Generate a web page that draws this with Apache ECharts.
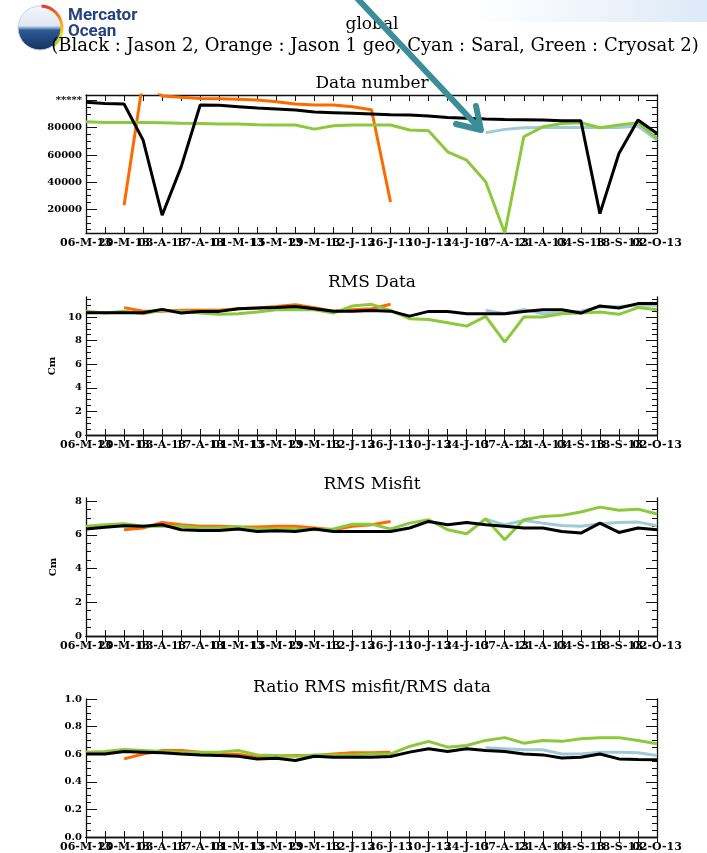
<!DOCTYPE html>
<html>
<head>
<meta charset="utf-8">
<script src="https://cdn.jsdelivr.net/npm/echarts@6/dist/echarts.min.js"></script>
<style>
  html, body { margin: 0; padding: 0; background: #fff; }
  #chart { width: 707px; height: 853px; }
</style>
</head>
<body>
<div id="chart"></div>
<script>
// weekly dates, 06 Mar 2013 .. 02 Oct 2013
const dates = ['06-M-13', '13-M-13', '20-M-13', '27-M-13', '03-A-13', '10-A-13', '17-A-13', '24-A-13',
  '01-M-13', '08-M-13', '15-M-13', '22-M-13', '29-M-13', '05-J-13', '12-J-13', '19-J-13', '26-J-13',
  '03-J-13', '10-J-13', '17-J-13', '24-J-13', '31-J-13', '07-A-13', '14-A-13', '21-A-13', '28-A-13',
  '04-S-13', '11-S-13', '18-S-13', '25-S-13', '02-O-13'];

// Data number
const nbJason2 = [98700, 97800, 97500, 70900, 15600, 51200, 96700, 96500, 95500, 94500, 93800, 93000, 91600, 91100, 90600, 90100,
  89600, 89300, 88600, 87600, 86900, 86400, 86100, 85900, 85700, 85200, 85200, 16800, 61100, 85700, 75800];
const nbJason1 = [null, null, 22950, 115000, 103400, 102400, 101600, 101400, 100900, 100400, 99200, 97500, 96700, 96700, 95500, 93200,
  25400, null, null, null, null, null, null, null, null, null, null, null, null, null, null];
const nbCryosat = [84400, 83900, 83900, 83900, 83700, 83400, 83200, 82700, 82700, 82200, 82000, 82000, 79000, 81500, 82000, 82000,
  82000, 78300, 77800, 62300, 56100, 40200, 2540, 73400, 80700, 83200, 83700, 80000, 82000, 83700, 72100];
const nbSaral = [null, null, null, null, null, null, null, null, null, null, null, null, null, null, null, null,
  null, null, null, null, null, 76300, 78800, 80000, 80200, 80200, 80200, 80200, 80200, 81200, 70900];

// RMS Data (cm)
const rmsDataJason2 = [10.37, 10.37, 10.37, 10.37, 10.65, 10.34, 10.48, 10.48, 10.71, 10.77, 10.8, 10.9, 10.7, 10.5, 10.5, 10.55,
  10.5, 10.08, 10.48, 10.48, 10.28, 10.28, 10.28, 10.48, 10.62, 10.62, 10.34, 10.94, 10.77, 11.14, 11.14];
const rmsDataJason1 = [null, null, 10.8, 10.5, 10.5, 10.57, 10.57, 10.57, 10.71, 10.77, 10.9, 11.05, 10.8, 10.5, 10.62, 10.7,
  11.08, null, null, null, null, null, null, null, null, null, null, null, null, null, null];
const rmsDataCryosat = [10.5, 10.34, 10.5, 10.28, 10.57, 10.5, 10.34, 10.23, 10.28, 10.43, 10.62, 10.65, 10.62, 10.34, 10.94, 11.08,
  10.57, 9.86, 9.8, 9.52, 9.23, 10.06, 7.87, 10.0, 10.0, 10.28, 10.34, 10.43, 10.23, 10.8, 10.62];
const rmsDataSaral = [null, null, null, null, null, null, null, null, null, null, null, null, null, null, null, null,
  null, null, null, null, null, 10.57, 10.28, 10.65, 10.28, 10.34, 10.5, 10.85, 10.9, 11.0, 11.0];

// RMS Misfit (cm)
const misfitJason2 = [6.34, 6.44, 6.53, 6.5, 6.59, 6.3, 6.26, 6.26, 6.34, 6.2, 6.24, 6.2, 6.34, 6.2, 6.2, 6.2,
  6.2, 6.4, 6.79, 6.59, 6.73, 6.59, 6.5, 6.4, 6.4, 6.2, 6.1, 6.69, 6.14, 6.4, 6.3];
const misfitJason1 = [null, null, 6.3, 6.4, 6.73, 6.59, 6.5, 6.5, 6.46, 6.46, 6.5, 6.5, 6.4, 6.3, 6.5, 6.6,
  6.79, null, null, null, null, null, null, null, null, null, null, null, null, null, null];
const misfitCryosat = [6.5, 6.59, 6.65, 6.5, 6.5, 6.5, 6.4, 6.4, 6.46, 6.34, 6.34, 6.34, 6.3, 6.34, 6.63, 6.63,
  6.34, 6.69, 6.89, 6.3, 6.06, 6.95, 5.7, 6.89, 7.09, 7.15, 7.35, 7.64, 7.45, 7.52, 7.23];
const misfitSaral = [null, null, null, null, null, null, null, null, null, null, null, null, null, null, null, null,
  null, null, null, null, null, 6.93, 6.59, 6.85, 6.69, 6.55, 6.5, 6.65, 6.73, 6.75, 6.53];

// Ratio RMS misfit / RMS data
const ratioJason2 = [0.602, 0.602, 0.62, 0.615, 0.61, 0.602, 0.595, 0.59, 0.585, 0.566, 0.57, 0.554, 0.585, 0.578, 0.578, 0.578,
  0.583, 0.615, 0.64, 0.62, 0.64, 0.627, 0.62, 0.602, 0.595, 0.573, 0.578, 0.602, 0.566, 0.561, 0.559];
const ratioJason1 = [null, null, 0.566, 0.602, 0.627, 0.627, 0.615, 0.602, 0.6, 0.578, 0.585, 0.59, 0.59, 0.602, 0.61, 0.61,
  0.615, null, null, null, null, null, null, null, null, null, null, null, null, null, null];
const ratioCryosat = [0.615, 0.62, 0.634, 0.627, 0.62, 0.615, 0.615, 0.615, 0.627, 0.595, 0.59, 0.585, 0.595, 0.595, 0.595, 0.602,
  0.602, 0.656, 0.693, 0.651, 0.663, 0.7, 0.72, 0.68, 0.7, 0.693, 0.712, 0.72, 0.72, 0.7, 0.676];
const ratioSaral = [null, null, null, null, null, null, null, null, null, null, null, null, null, null, null, null,
  null, null, null, null, null, 0.646, 0.64, 0.632, 0.632, 0.602, 0.602, 0.615, 0.615, 0.61, 0.59];

// y tick values
const nbTicks = [20000, 40000, 60000, 80000, 100000];
const cmDataTicks = [0, 2, 4, 6, 8, 10];
const cmMisfitTicks = [0, 2, 4, 6, 8];
const ratioTicks = [0, 0.2, 0.4, 0.6, 0.8, 1.0];

const ORANGE = '#ff6a00', CYAN = '#9fcbd8', GREEN = '#8cc83c', BLACK = '#000';
const SERIF = 'DejaVu Serif';

function minorSteps(from, to, step) {
  let out = [];
  for (let i = 0; from + i * step <= to + 1e-9; i++) out.push(+(from + i * step).toFixed(4));
  return out;
}

const panels = [
  {top: 95, min: 2540, max: 104100, major: nbTicks, minor: minorSteps(5000, 100000, 5000),
    fmt: v => v >= 100000 ? '*****' : String(v), name: '',
    data: [nbJason1, nbSaral, nbCryosat, nbJason2]},
  {top: 297, min: 0, max: 11.7, major: cmDataTicks, minor: minorSteps(0, 11.5, 0.5),
    fmt: v => String(v), name: 'Cm',
    data: [rmsDataJason1, rmsDataSaral, rmsDataCryosat, rmsDataJason2]},
  {top: 498, min: 0, max: 8.18, major: cmMisfitTicks, minor: minorSteps(0, 8, 0.5),
    fmt: v => String(v), name: 'Cm',
    data: [misfitJason1, misfitSaral, misfitCryosat, misfitJason2]},
  {top: 699, min: 0, max: 1, major: ratioTicks, minor: minorSteps(0, 1, 0.05),
    fmt: v => v.toFixed(1), name: '',
    data: [ratioJason1, ratioSaral, ratioCryosat, ratioJason2]}
];
const colors = [ORANGE, CYAN, GREEN, BLACK];

const axisLine = {show: true, lineStyle: {color: '#111', width: 1.3}};
let grid = [], xAxis = [], yAxis = [], series = [];

panels.forEach((p, i) => {
  grid.push({left: 86, width: 571, top: p.top, height: 138});
  // bottom axis: a tick every week, a label every other week (labels overlap, as in the original)
  xAxis.push({
    type: 'category', gridIndex: i, data: dates, boundaryGap: false,
    axisLine: axisLine,
    axisTick: {show: true, inside: true, length: 6, interval: 0, lineStyle: {color: '#111'}},
    axisLabel: {interval: 0, formatter: (v, idx) => idx % 2 === 0 ? v : '',
      margin: 5, color: '#000', fontSize: 11, fontWeight: 'bold', fontFamily: SERIF},
    splitLine: {show: false}
  });
  // top axis: ticks only
  xAxis.push({
    type: 'category', gridIndex: i, data: dates, boundaryGap: false, position: 'top',
    axisLine: axisLine,
    axisTick: {show: true, inside: true, length: 6, interval: 0, lineStyle: {color: '#111'}},
    axisLabel: {show: false}, splitLine: {show: false}
  });
  const base = {type: 'value', gridIndex: i, min: p.min, max: p.max, splitLine: {show: false}};
  yAxis.push(Object.assign({}, base, {
    position: 'left', axisLine: axisLine,
    name: p.name, nameLocation: 'middle', nameGap: 28,
    nameTextStyle: {color: '#000', fontSize: 10, fontWeight: 'bold', fontFamily: SERIF},
    axisTick: {show: true, inside: true, length: 11, customValues: p.major, lineStyle: {color: '#111'}},
    axisLabel: {customValues: p.major, formatter: p.fmt, margin: 4, color: '#000', fontSize: 10, fontWeight: 'bold', fontFamily: SERIF}
  }));
  yAxis.push(Object.assign({}, base, {
    position: 'left', axisLine: {show: false},
    axisTick: {show: true, inside: true, length: 5, customValues: p.minor, lineStyle: {color: '#111'}},
    axisLabel: {show: false}
  }));
  yAxis.push(Object.assign({}, base, {
    position: 'right', axisLine: axisLine,
    axisTick: {show: true, inside: true, length: 11, customValues: p.major, lineStyle: {color: '#111'}},
    axisLabel: {show: false}
  }));
  yAxis.push(Object.assign({}, base, {
    position: 'right', axisLine: {show: false},
    axisTick: {show: true, inside: true, length: 5, customValues: p.minor, lineStyle: {color: '#111'}},
    axisLabel: {show: false}
  }));
  p.data.forEach((d, k) => {
    series.push({
      type: 'line', xAxisIndex: 2 * i, yAxisIndex: 4 * i, data: d,
      symbol: 'none', clip: true, connectNulls: false,
      lineStyle: {color: colors[k], width: 3}, itemStyle: {color: colors[k]},
      z: 2 + k
    });
  });
});

function label(text, x, y, size) {
  return {type: 'text', x: x, y: y, z: 10,
    style: {text: text, align: 'center', textAlign: 'center', verticalAlign: 'middle', textVerticalAlign: 'middle',
      fontSize: size, fontFamily: SERIF, fill: '#000'}};
}

const graphic = [
  // light banner at top right
  {type: 'rect', shape: {x: 470, y: 0, width: 237, height: 22}, z: 0,
    style: {fill: new echarts.graphic.LinearGradient(0, 0, 1, 0, [
      {offset: 0, color: 'rgba(225,236,247,0)'}, {offset: 1, color: 'rgba(220,233,246,1)'}])}},
  // logo
  {type: 'circle', shape: {cx: 40, cy: 28, r: 22}, z: 5,
    style: {fill: new echarts.graphic.LinearGradient(0, 0, 0, 1, [
      {offset: 0, color: '#f4f7fb'}, {offset: 0.45, color: '#dfe8f2'}, {offset: 0.55, color: '#2b5a94'}, {offset: 1, color: '#14305f'}]),
      stroke: '#c9d3de', lineWidth: 1}},
  {type: 'arc', shape: {cx: 40, cy: 28, r: 22, startAngle: -1.5, endAngle: 0.9}, z: 6,
    style: {fill: null, lineWidth: 3, stroke: new echarts.graphic.LinearGradient(0, 0, 0, 1, [
      {offset: 0, color: '#e8242a'}, {offset: 0.4, color: '#f6a21a'}, {offset: 0.7, color: '#f4e01c'}, {offset: 1, color: '#7cc242'}])}},
  {type: 'text', x: 68, y: 7, z: 6, style: {text: 'Mercator', fontSize: 17, fontWeight: 'bold', fontFamily: 'Roboto', fill: '#24437f'}},
  {type: 'text', x: 68, y: 23, z: 6, style: {text: 'Ocean', fontSize: 17, fontWeight: 'bold', fontFamily: 'Roboto', fill: '#24437f'}},
  // headings
  label('global', 372, 25, 17),
  label('(Black : Jason 2, Orange : Jason 1 geo, Cyan : Saral, Green : Cryosat 2)', 375, 46, 18),
  label('Data number', 372, 84, 17),
  label('RMS Data', 372, 283, 17),
  label('RMS Misfit', 372, 485, 17),
  label('Ratio RMS misfit/RMS data', 372, 688, 17),
  // annotation arrow
  {type: 'polyline', z: 20, shape: {points: [[355, -4], [480, 129]]},
    style: {stroke: '#3b8d98', lineWidth: 6, fill: null}},
  {type: 'polyline', z: 20, shape: {points: [[456, 124], [481, 130], [476, 106]]},
    style: {stroke: '#3b8d98', lineWidth: 6, fill: null, lineCap: 'round', lineJoin: 'round'}}
];

const chart = echarts.init(document.getElementById('chart'));
chart.setOption({
  animation: false,
  backgroundColor: '#fff',
  grid: grid,
  xAxis: xAxis,
  yAxis: yAxis,
  series: series,
  graphic: graphic
});
</script>
</body>
</html>
